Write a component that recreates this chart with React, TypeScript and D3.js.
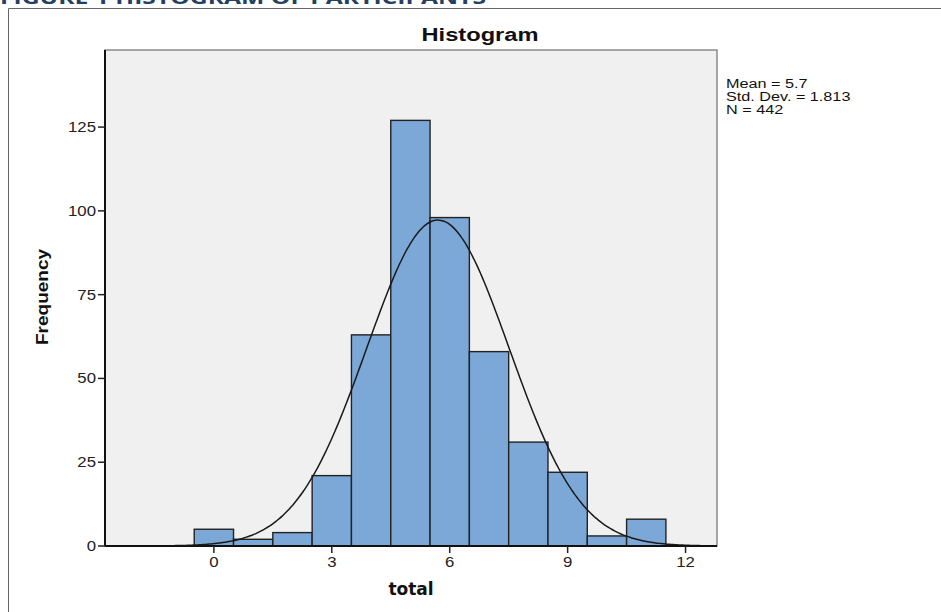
import React from 'react';
import * as d3 from 'd3';

// histogram of "total" scores, one bin per integer value
const binCentres = [0, 1, 2, 3, 4, 5, 6, 7, 8, 9, 10, 11];
const frequencies = [5, 2, 4, 21, 63, 127, 98, 58, 31, 22, 3, 8];
const xTicks = [0, 3, 6, 9, 12];
const yTicks = [0, 25, 50, 75, 100, 125];
const statsLines = ['Mean = 5.7', 'Std. Dev. = 1.813', 'N = 442'];
const mean = 5.7;
const stdDev = 1.813;
const nTotal = 442;

const W = 941;
const H = 612;
const plot = {left: 105, right: 717, top: 50, bottom: 546};
// the exported SPSS chart is stretched sideways a bit
const stretch = 1.2;

export default function App() {
  const x = d3.scaleLinear().domain([-2.77, 12.8]).range([plot.left, plot.right]);
  const y = d3.scaleLinear().domain([0, 148]).range([plot.bottom, plot.top]);

  // fitted normal curve (scaled to bin width 1)
  const pdf = (v: number) =>
    (nTotal / (stdDev * Math.sqrt(2 * Math.PI))) * Math.exp(-0.5 * ((v - mean) / stdDev) ** 2);
  const curvePts = d3.range(-2.77, 12.8 + 0.001, 0.05).map((v) => [v, pdf(v)] as [number, number]);
  const line = d3.line<[number, number]>()
    .x((d) => x(d[0]))
    .y((d) => y(d[1]))
    .curve(d3.curveBasis);

  const sans = 'Arial, "Liberation Sans", sans-serif';

  return (
    <svg width={W} height={H} style={{position: 'absolute', left: 0, top: 0, background: '#fff'}}>
      {/* cut-off figure caption from the document */}
      <text x={0} y={4} fontFamily='"Open Sans", sans-serif' fontWeight="bold" fontSize={18}
        fill="#243f60" textLength={486} lengthAdjust="spacingAndGlyphs">
        FIGURE 1 HISTOGRAM OF PARTICIPANTS
      </text>

      {/* outer frame */}
      <path d={`M8.5,${H}V8.5H${W}`} fill="none" stroke="#666" strokeWidth={1} />

      <text x={480} y={41} textAnchor="middle" fontFamily={sans} fontWeight="bold" fontSize={18}
        fill="#111" textLength={117} lengthAdjust="spacingAndGlyphs">
        Histogram
      </text>

      {/* plot background */}
      <rect x={plot.left} y={plot.top} width={plot.right - plot.left} height={plot.bottom - plot.top}
        fill="#f0f0f0" stroke="#8a8a8a" strokeWidth={1.5} />

      {/* bars */}
      {binCentres.map((c, i) => (
        <rect key={c} x={x(c - 0.5)} y={y(frequencies[i])}
          width={x(c + 0.5) - x(c - 0.5)} height={y(0) - y(frequencies[i])}
          fill="#7ba8d7" stroke="#222" strokeWidth={1.4} />
      ))}

      {/* normal curve */}
      <path d={line(curvePts) || ''} fill="none" stroke="#1a1a1a" strokeWidth={1.5} />

      {/* axes */}
      <line x1={plot.left} x2={plot.left} y1={plot.top} y2={plot.bottom} stroke="#111" strokeWidth={2} />
      <line x1={plot.left} x2={plot.right} y1={plot.bottom} y2={plot.bottom} stroke="#111" strokeWidth={2} />

      {yTicks.map((t) => (
        <g key={t}>
          <line x1={plot.left - 7} x2={plot.left} y1={y(t)} y2={y(t)} stroke="#222" strokeWidth={1.5} />
          <text transform={`translate(${plot.left - 9},${y(t) + 5}) scale(${stretch},1)`} textAnchor="end"
            fontFamily={sans} fontSize={14} fill="#222">{t}</text>
        </g>
      ))}
      {xTicks.map((t) => (
        <g key={t}>
          <line x1={x(t)} x2={x(t)} y1={plot.bottom} y2={plot.bottom + 7} stroke="#222" strokeWidth={1.5} />
          <text transform={`translate(${x(t)},${plot.bottom + 21}) scale(${stretch},1)`} textAnchor="middle"
            fontFamily={sans} fontSize={14} fill="#222">{t}</text>
        </g>
      ))}

      <text transform="translate(48,297) rotate(-90)" textAnchor="middle" fontFamily={sans}
        fontWeight="bold" fontSize={16} fill="#111" textLength={96} lengthAdjust="spacingAndGlyphs">
        Frequency
      </text>
      <text x={411} y={595} textAnchor="middle" fontFamily='"DejaVu Sans", sans-serif'
        fontWeight="bold" fontSize={17} fill="#111">
        total
      </text>

      {statsLines.map((s, i) => (
        <text key={s} transform={`translate(726,${88 + i * 12.8}) scale(${stretch},1)`}
          fontFamily={sans} fontSize={13.5} fill="#111">{s}</text>
      ))}
    </svg>
  );
}
